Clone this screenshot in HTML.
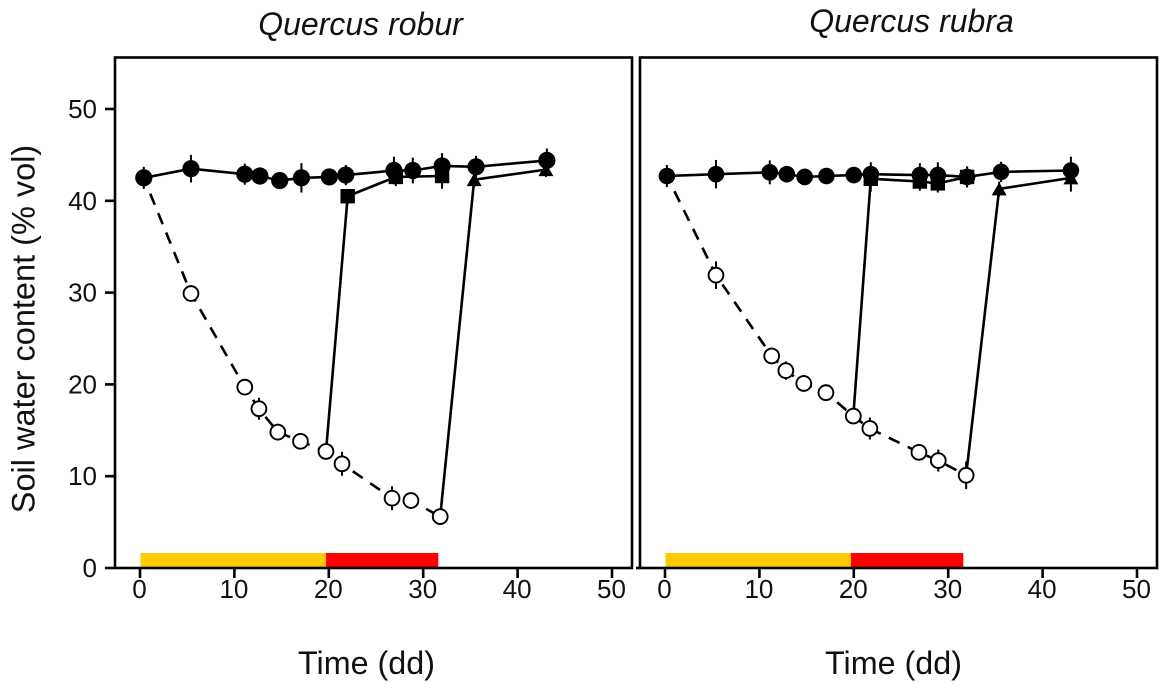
<!DOCTYPE html>
<html>
<head>
<meta charset="utf-8">
<style>
html,body{margin:0;padding:0;background:#fff;width:1169px;height:690px;overflow:hidden}
svg{display:block}
text{font-family:"Liberation Sans",Arial,sans-serif;fill:#111}
</style>
</head>
<body>
<svg id="chart" width="1169" height="690" viewBox="0 0 1169 690" xmlns="http://www.w3.org/2000/svg"></svg>
<script>
// ---------- data ----------
const xTickLabels = [0, 10, 20, 30, 40, 50];
const yTickLabels = [0, 10, 20, 30, 40, 50];
const stressPhases = [0.05, 19.7, 31.6];

const roburControlDays = [0.4, 5.4, 11.1, 12.7, 14.8, 17.1, 20.05, 21.8, 26.9, 28.9, 32, 35.6, 43.1];
const roburControl = [42.5, 43.5, 42.9, 42.7, 42.2, 42.5, 42.6, 42.8, 43.3, 43.3, 43.8, 43.7, 44.4];
const roburControlErr = [1.2, 1.5, 1.15, 0.8, 0.9, 1.6, 0.8, 1.1, 1.5, 1.4, 1.4, 1.2, 1.3];
const roburDroughtDays = [0.4, 5.4, 11.1, 12.6, 14.6, 17, 19.7, 21.4, 26.7, 28.7, 31.8];
const roburDrought = [42.5, 29.9, 19.7, 17.35, 14.8, 13.8, 12.7, 11.35, 7.6, 7.35, 5.6];
const roburDroughtErr = [0.5, 0.6, 0.6, 1.2, 0.9, 0.5, 0.9, 1.3, 1.3, 0.9, 0.9];
const roburSquareDays = [19.7, 22, 27.1, 32];
const roburSquare = [12.7, 40.5, 42.6, 42.7];
const roburSquareErr = [0, 0.5, 1.0, 1.4];
const roburTriangleDays = [31.8, 35.4, 43];
const roburTriangle = [5.6, 42.3, 43.4];
const roburTriangleErr = [0, 0.8, 0.8];

const rubraControlDays = [0.2, 5.4, 11.1, 12.9, 14.8, 17.1, 20, 21.8, 27, 28.9, 32, 35.6, 43];
const rubraControl = [42.7, 42.9, 43.1, 42.9, 42.6, 42.7, 42.8, 42.9, 42.8, 42.8, 42.6, 43.15, 43.3];
const rubraControlErr = [1.2, 1.55, 1.3, 0.9, 0.9, 0.8, 0.8, 1.3, 1.3, 1.4, 1.1, 1.1, 1.5];
const rubraDroughtDays = [0.2, 5.4, 11.3, 12.8, 14.7, 17.05, 19.95, 21.7, 26.9, 28.95, 31.9];
const rubraDrought = [42.7, 31.9, 23.1, 21.5, 20.1, 19.1, 16.55, 15.2, 12.6, 11.7, 10.1];
const rubraDroughtErr = [0.5, 1.5, 0.9, 1.0, 0.9, 0.9, 0.7, 1.2, 0.9, 1.2, 1.5];
const rubraSquareDays = [19.95, 21.8, 27, 28.9, 32];
const rubraSquare = [16.55, 42.4, 42.1, 41.9, 42.6];
const rubraSquareErr = [0, 1.4, 1.0, 1.0, 1.15];
const rubraTriangleDays = [31.9, 35.4, 43];
const rubraTriangle = [10.1, 41.3, 42.5];
const rubraTriangleErr = [0, 0.8, 1.5];

// ---------- helpers ----------
const NS = 'http://www.w3.org/2000/svg';
const svg = document.getElementById('chart');

function make(tag, parent, props, text) {
  const el = document.createElementNS(NS, tag);
  for (const k in props) el.setAttribute(k, props[k]);
  if (text !== undefined) el.textContent = text;
  parent.appendChild(el);
  return el;
}

function drawPoly(g, sx, sy, days, vals, dashed) {
  const pts = days.map((d, i) => sx(d).toFixed(1) + ',' + sy(vals[i]).toFixed(1)).join(' ');
  const line = make('polyline', g, {points: pts, fill: 'none', stroke: '#000', 'stroke-width': 2.6});
  if (dashed) {
    line.setAttribute('stroke-dasharray', '12 9');
    line.setAttribute('stroke-dashoffset', '4');
  }
  return line;
}

function drawErr(g, sx, sy, days, vals, errs) {
  days.forEach((d, i) => {
    if (!errs[i]) return;
    const e = make('line', g, {x1: sx(d), x2: sx(d), y1: sy(vals[i] - errs[i]), y2: sy(vals[i] + errs[i]), stroke: '#000', 'stroke-width': 2});
    
    
  });
}

function drawPanel(cfg) {
  const x0 = cfg.zeroX, xUnit = 9.44, y0 = 568, yUnit = 9.18;
  const sx = d => x0 + d * xUnit;
  const sy = v => y0 - v * yUnit;

  const g = make('g', svg, {});
  
  

  // phase bars
  const b1 = make('rect', g, {x: sx(stressPhases[0]), y: 553, width: sx(stressPhases[1]) - sx(stressPhases[0]), height: 14, fill: '#ffca00'});
  
  
  const b2 = make('rect', g, {x: sx(stressPhases[1]), y: 553, width: sx(stressPhases[2]) - sx(stressPhases[1]), height: 14, fill: '#ff0000'});
  
  

  // frame
  const frame = make('rect', g, {x: cfg.left, y: 57.5, width: cfg.right - cfg.left, height: 510.5, fill: 'none', stroke: '#000', 'stroke-width': 2.6});
  
  

  // x ticks
  xTickLabels.forEach(t => {
    const tick = make('line', g, {x1: sx(t), x2: sx(t), y1: 568, y2: 578, stroke: '#000', 'stroke-width': 2.6});
    
    
    const lab = make('text', g, {x: sx(t) - 0.5, y: 598, 'text-anchor': 'middle', 'font-size': 26}, t);
    
    
  });

  // y ticks (left panel only)
  if (cfg.yAxis) {
    yTickLabels.forEach(t => {
      const tick = make('line', g, {x1: cfg.left - 10, x2: cfg.left, y1: sy(t), y2: sy(t), stroke: '#000', 'stroke-width': 2.6});
      
      
      const lab = make('text', g, {x: cfg.left - 18, y: sy(t) + 9, 'text-anchor': 'end', 'font-size': 26}, t);
      
      
    });
  } else {
    const tick = make('line', g, {x1: cfg.left - 4, x2: cfg.left, y1: 568, y2: 568, stroke: '#000', 'stroke-width': 2.6});
    
    
  }

  // title + x title
  const title = make('text', g, {x: cfg.titleX, y: cfg.titleY, 'text-anchor': 'middle', 'font-size': 32, 'font-style': 'italic'}, cfg.title);
  
  
  const xt = make('text', g, {x: cfg.xTitleX, y: 674, 'text-anchor': 'middle', 'font-size': 32.3}, 'Time (dd)');
  
  

  // lines
  const dashLine = drawPoly(g, sx, sy, cfg.droughtDays, cfg.drought, true);
  
  
  const sqLine = drawPoly(g, sx, sy, cfg.squareDays, cfg.square, false);
  
  
  const triLine = drawPoly(g, sx, sy, cfg.triangleDays, cfg.triangle, false);
  
  
  const ctlLine = drawPoly(g, sx, sy, cfg.controlDays, cfg.control, false);
  
  

  // error bars
  drawErr(g, sx, sy, cfg.droughtDays, cfg.drought, cfg.droughtErr);
  drawErr(g, sx, sy, cfg.squareDays, cfg.square, cfg.squareErr);
  drawErr(g, sx, sy, cfg.triangleDays, cfg.triangle, cfg.triangleErr);
  drawErr(g, sx, sy, cfg.controlDays, cfg.control, cfg.controlErr);

  // open circles
  cfg.droughtDays.forEach((d, i) => {
    const c = make('circle', g, {cx: sx(d), cy: sy(cfg.drought[i]), r: 7.4, fill: '#fff', stroke: '#000', 'stroke-width': 1.9});
    if (i === 0) c.setAttribute('visibility', 'hidden');
    
    
  });
  // triangles
  cfg.triangleDays.forEach((d, i) => {
    if (i === 0) return;
    const x = sx(d), y = sy(cfg.triangle[i]);
    const p = make('polygon', g, {points: (x - 7.5) + ',' + (y + 6.5) + ' ' + (x + 7.5) + ',' + (y + 6.5) + ' ' + x + ',' + (y - 6.5), fill: '#000'});
    
    
  });
  // squares
  cfg.squareDays.forEach((d, i) => {
    if (i === 0) return;
    const r = make('rect', g, {x: sx(d) - 7.2, y: sy(cfg.square[i]) - 7.2, width: 14.4, height: 14.4, fill: '#000'});
    
    
  });
  // filled circles
  cfg.controlDays.forEach((d, i) => {
    const c = make('circle', g, {cx: sx(d), cy: sy(cfg.control[i]), r: cfg.controlRadius, fill: '#000'});
    
    
  });
}

drawPanel({
  name: 'quercus-robur', title: 'Quercus robur', titleX: 360.5, titleY: 35, xTitleX: 366.5,
  zeroX: 140, left: 115, right: 632, yAxis: true, controlRadius: 8.6,
  controlDays: roburControlDays, control: roburControl, controlErr: roburControlErr,
  droughtDays: roburDroughtDays, drought: roburDrought, droughtErr: roburDroughtErr,
  squareDays: roburSquareDays, square: roburSquare, squareErr: roburSquareErr,
  triangleDays: roburTriangleDays, triangle: roburTriangle, triangleErr: roburTriangleErr
});
drawPanel({
  name: 'quercus-rubra', title: 'Quercus rubra', titleX: 911.5, titleY: 32, xTitleX: 893.5,
  zeroX: 665, left: 640, right: 1157, yAxis: false, controlRadius: 8.3,
  controlDays: rubraControlDays, control: rubraControl, controlErr: rubraControlErr,
  droughtDays: rubraDroughtDays, drought: rubraDrought, droughtErr: rubraDroughtErr,
  squareDays: rubraSquareDays, square: rubraSquare, squareErr: rubraSquareErr,
  triangleDays: rubraTriangleDays, triangle: rubraTriangle, triangleErr: rubraTriangleErr
});

const yTitle = make('text', svg, {transform: 'translate(34.5,329) rotate(-90)', 'text-anchor': 'middle', 'font-size': 32.5}, 'Soil water content (% vol)');


</script>
</body>
</html>
